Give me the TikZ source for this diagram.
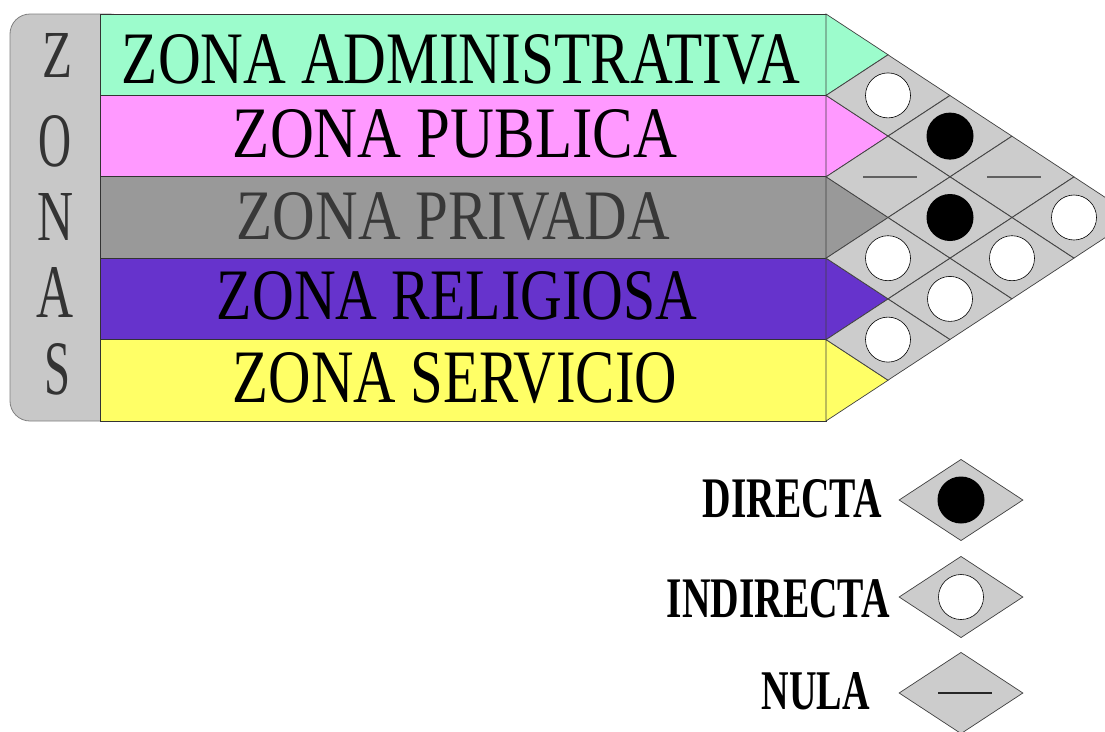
\documentclass[tikz,border=0pt]{standalone}
\usepackage{fontspec}
\usepackage{graphicx}
\IfFontExistsTF{LiberationSerif-Regular.ttf}
  {\setmainfont{LiberationSerif}[Extension=.ttf,UprightFont=*-Regular,BoldFont=*-Bold,ItalicFont=*-Italic,BoldItalicFont=*-BoldItalic]}
  {}
\usetikzlibrary{shapes.geometric}
\definecolor{zgreen}{RGB}{156,252,204}
\definecolor{zpink}{RGB}{255,153,255}
\definecolor{zgray}{RGB}{153,153,153}
\definecolor{zpurple}{RGB}{102,51,204}
\definecolor{zyellow}{RGB}{255,255,102}
\definecolor{cellgray}{RGB}{204,204,204}
\definecolor{colgray}{RGB}{200,200,200}
\definecolor{colline}{RGB}{128,128,128}
\definecolor{dashgray}{RGB}{96,96,96}
\newcommand{\fitto}[3]{\resizebox{#1pt}{#2pt}{#3}}
\begin{document}
\begin{tikzpicture}[x=1pt,y=-1pt,
  colbox/.style={rectangle, rounded corners=20pt, draw=colline, fill=colgray, line width=0.8pt, inner sep=0pt, minimum width=120pt, minimum height=407pt},
  colletter/.style={inner sep=0pt, text=black!80},
  barbox/.style={rectangle, draw=black!80, line width=0.8pt, inner sep=0pt, minimum width=726pt, minimum height=81.4pt},
  bartext/.style={inner sep=0pt, text=black},
  tri/.style={draw=black!75, line width=0.7pt},
  cell/.style={diamond, draw=black!75, fill=cellgray, line width=0.7pt, inner sep=0pt, minimum width=124pt, minimum height=81.4pt},
  wdot/.style={circle, draw=black, line width=0.6pt, fill=white, inner sep=0pt, minimum size=45pt},
  bdot/.style={circle, fill=black, inner sep=0pt, minimum size=47pt},
  nulbar/.style={draw=dashgray, line width=1.4pt},
  legtext/.style={inner sep=0pt, text=black, anchor=east}
]
\useasboundingbox (0,0) rectangle (1105,731);
\fill[white] (0,0) rectangle (1105,731);
\clip (0,0) rectangle (1105,731);

% left column
\node[colbox] (col) at (70,217.5) {};
\node[colletter] (L1) at (57.5,55)  {\fitto{30}{44}{Z}};
\node[colletter] (L2) at (55.5,141) {\fitto{33}{51}{O}};
\node[colletter] (L3) at (56,216.5) {\fitto{36}{47}{N}};
\node[colletter] (L4) at (55.5,292) {\fitto{37}{50}{A}};
\node[colletter] (L5) at (58,369)   {\fitto{26}{51}{S}};

% bars
\node[barbox, fill=zgreen]  (b1) at (463,54.7) {};
\node[barbox, fill=zpink]   (b2) at (463,136.1) {};
\node[barbox, fill=zgray]   (b3) at (463,217.5) {};
\node[barbox, fill=zpurple] (b4) at (463,298.9) {};
\node[barbox, fill=zyellow] (b5) at (463,380.3) {};

\node[bartext] (t1) at (461,59.5) {\fitto{678}{49}{ZONA ADMINISTRATIVA}};
\node[bartext] (t2) at (455,134) {\fitto{444}{48}{ZONA PUBLICA}};
\node[bartext, text=black!78] (t3) at (453.5,216.5) {\fitto{433}{47}{ZONA PRIVADA}};
\node[bartext] (t4) at (457,296) {\fitto{480}{48}{ZONA RELIGIOSA}};
\node[bartext] (t5) at (455,378) {\fitto{444}{50}{ZONA SERVICIO}};

% arrow triangles
\coordinate (e0) at (826,14);
\coordinate (e1) at (826,95.4);
\coordinate (e2) at (826,176.8);
\coordinate (e3) at (826,258.2);
\coordinate (e4) at (826,339.6);
\coordinate (e5) at (826,421);
\coordinate (p1) at (888,54.7);
\coordinate (p2) at (888,136.1);
\coordinate (p3) at (888,217.5);
\coordinate (p4) at (888,298.9);
\coordinate (p5) at (888,380.3);
\filldraw[tri, fill=zgreen]  (e0) -- (p1) -- (e1) -- cycle;
\filldraw[tri, fill=zpink]   (e1) -- (p2) -- (e2) -- cycle;
\filldraw[tri, fill=zgray]   (e2) -- (p3) -- (e3) -- cycle;
\filldraw[tri, fill=zpurple] (e3) -- (p4) -- (e4) -- cycle;
\filldraw[tri, fill=zyellow] (e4) -- (p5) -- (e5) -- cycle;

% relation cells
\foreach \n/\x/\y in {c12/888/95.4, c13/950/136.1, c14/1012/176.8, c15/1074/217.5,
                      c23/888/176.8, c24/950/217.5, c25/1012/258.2,
                      c34/888/258.2, c35/950/298.9, c45/888/339.6}
  \node[cell] (\n) at (\x,\y) {};
\foreach \n in {c12,c15,c25,c34,c35,c45}
  \node[wdot] (d\n) at (\n) {};
\foreach \n in {c13,c24}
  \node[bdot] (d\n) at (\n) {};
\foreach \n in {c14,c23}
  \draw[nulbar] ([xshift=-25pt]\n.center) -- ([xshift=29pt]\n.center);

% legend
\node[cell] (l1) at (961,500) {};
\node[bdot] (l1d) at (l1) {};
\node[cell] (l2) at (961,597) {};
\node[wdot] (l2d) at (l2) {};
\node[cell] (l3) at (961,693) {};
\draw[nulbar, draw=black!85] ([xshift=-23pt]l3.center) -- ([xshift=31pt]l3.center);
\node[legtext] (lt1) at (882,499) {\fitto{179}{38}{\bfseries DIRECTA}};
\node[legtext] (lt2) at (890,599) {\fitto{223}{38}{\bfseries INDIRECTA}};
\node[legtext] (lt3) at (870,691) {\fitto{108}{37}{\bfseries NULA}};
\end{tikzpicture}
\end{document}
